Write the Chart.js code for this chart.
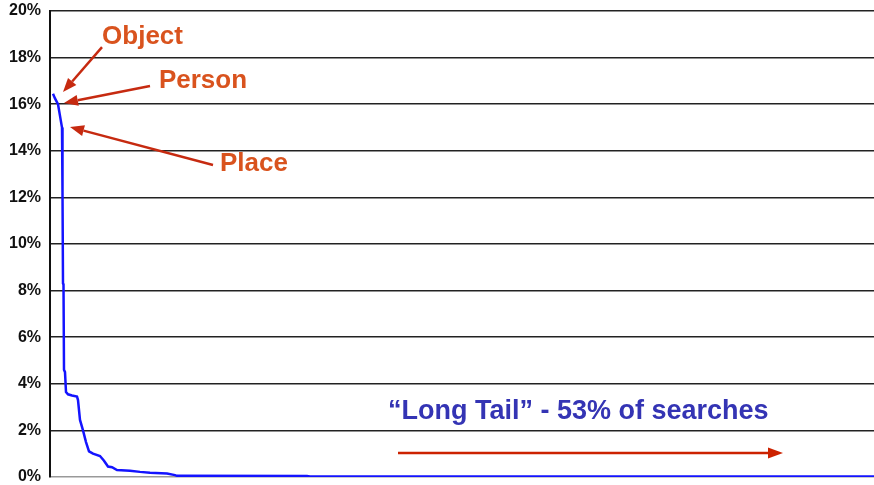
<!DOCTYPE html>
<html>
<head>
<meta charset="utf-8">
<script src="https://cdn.jsdelivr.net/npm/chart.js@4/dist/chart.umd.min.js"></script>
<style>
  html, body { margin: 0; padding: 0; background: #fff; }
  #wrap { width: 874px; height: 485px; position: relative; }
</style>
</head>
<body>
<div id="wrap"><canvas id="c" width="874" height="485"></canvas></div>
<script>
// Query rank (position along the tail) and share of searches (%)
const ranks = [3, 5, 8, 10, 12, 12.5, 13, 13.5, 14, 15, 16, 18, 22, 27, 28, 30, 33, 36, 39, 43, 50, 54, 58, 62, 67, 80, 90, 100, 117, 125, 127, 257, 260, 824];
const shares = [16.45, 16.25, 16.0, 15.5, 15.0, 12.2, 8.3, 8.25, 4.6, 4.5, 3.65, 3.55, 3.5, 3.45, 3.3, 2.45, 2.0, 1.5, 1.1, 1.0, 0.9, 0.7, 0.45, 0.42, 0.3, 0.27, 0.22, 0.18, 0.15, 0.08, 0.05, 0.04, 0.02, 0.02];
const yTicks = [0, 2, 4, 6, 8, 10, 12, 14, 16, 18, 20];

// Callouts (in data units)
const callouts = [
  { text: 'Object', tx: 92.5, ty: 18.88, from: [52, 18.45], to: [13, 16.52] },
  { text: 'Person', tx: 153, ty: 17.0, from: [100, 16.78], to: [14, 16.05] },
  { text: 'Place',  tx: 204, ty: 13.43, from: [163, 13.39], to: [20, 15.02] }
];
const tailLabel = { text: '\u201CLong Tail\u201D - 53% of searches', tx: 338, ty: 2.79, from: [348, 1.03], to: [733, 1.03] };

function arrow(ctx, x1, y1, x2, y2, color, lw, headLen, headW) {
  const ang = Math.atan2(y2 - y1, x2 - x1);
  const bx = x2 - headLen * Math.cos(ang), by = y2 - headLen * Math.sin(ang);
  ctx.save();
  ctx.strokeStyle = color; ctx.fillStyle = color; ctx.lineWidth = lw;
  ctx.beginPath(); ctx.moveTo(x1, y1); ctx.lineTo(bx, by); ctx.stroke();
  ctx.beginPath();
  ctx.moveTo(x2, y2);
  ctx.lineTo(bx + headW / 2 * Math.sin(ang), by - headW / 2 * Math.cos(ang));
  ctx.lineTo(bx - headW / 2 * Math.sin(ang), by + headW / 2 * Math.cos(ang));
  ctx.closePath(); ctx.fill();
  ctx.restore();
}

const annotPlugin = {
  id: 'annot',
  afterDatasetsDraw(chart) {
    const { ctx, scales: { x, y } } = chart;
    ctx.save();
    ctx.font = 'bold 26px "Liberation Sans", Arial, sans-serif';
    ctx.textAlign = 'center'; ctx.textBaseline = 'middle';
    callouts.forEach(c => {
      ctx.fillStyle = '#d9531e';
      ctx.fillText(c.text, x.getPixelForValue(c.tx), y.getPixelForValue(c.ty));
      arrow(ctx, x.getPixelForValue(c.from[0]), y.getPixelForValue(c.from[1]),
            x.getPixelForValue(c.to[0]), y.getPixelForValue(c.to[1]), '#c62a10', 2.5, 14, 11);
    });
    ctx.textAlign = 'left';
    ctx.fillStyle = '#3434b4';
    ctx.font = 'bold 27px "Liberation Sans", Arial, sans-serif';
    ctx.fillText(tailLabel.text, x.getPixelForValue(tailLabel.tx), y.getPixelForValue(tailLabel.ty));
    arrow(ctx, x.getPixelForValue(tailLabel.from[0]), y.getPixelForValue(tailLabel.from[1]),
          x.getPixelForValue(tailLabel.to[0]), y.getPixelForValue(tailLabel.to[1]), '#cc2200', 2.5, 15, 11);
    ctx.restore();
  }
};

new Chart(document.getElementById('c'), {
  type: 'line',
  data: {
    datasets: [{
      data: ranks.map((r, i) => ({ x: r, y: shares[i] })),
      borderColor: '#1414ff',
      borderWidth: 2.5,
      pointRadius: 0,
      tension: 0,
      fill: false
    }]
  },
  options: {
    responsive: false,
    animation: false,
    layout: { padding: { top: 11, bottom: 8, left: 0, right: 0 } },
    plugins: { legend: { display: false }, tooltip: { enabled: false } },
    scales: {
      x: { type: 'linear', min: 0, max: 824, display: false },
      y: {
        min: 0, max: 20,
        afterFit(s) { s.width = 50; s.paddingTop = 0; s.paddingBottom = 0; },
        afterBuildTicks(s) { s.ticks = yTicks.map(v => ({ value: v })); },
        ticks: {
          padding: 9,
          color: '#111',
          font: { family: '"Liberation Sans", Arial, sans-serif', size: 16, weight: 'bold' },
          callback: v => v + '%'
        },
        grid: {
          drawTicks: false,
          lineWidth: 1.5,
          color: ctx => ctx.tick && ctx.tick.value === 0 ? '#999' : '#222'
        },
        border: { color: '#111', width: 2 }
      }
    }
  },
  plugins: [annotPlugin]
});
</script>
</body>
</html>
